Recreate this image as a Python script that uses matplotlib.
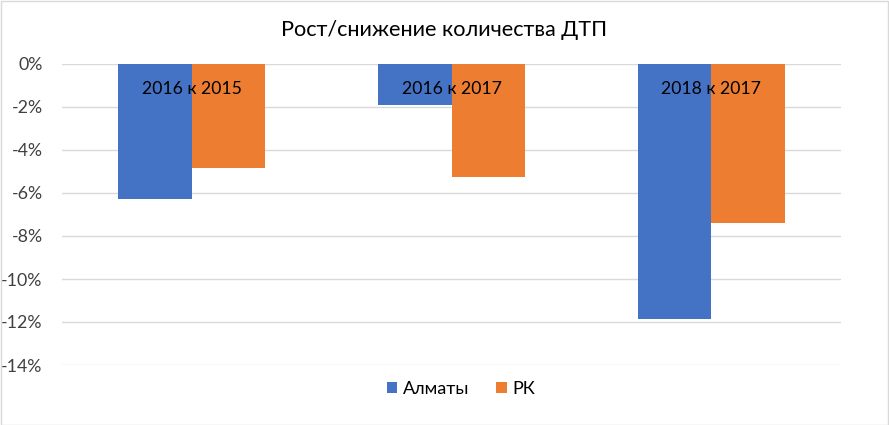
import matplotlib
matplotlib.use('Agg')
import matplotlib.pyplot as plt
from matplotlib.patches import Rectangle

plt.rcParams['font.family'] = ['Lato', 'DejaVu Sans']

# Данные
categories = ['2016 к 2015', '2016 к 2017', '2018 к 2017']
almaty = [-6.27, -1.9, -11.88]
rk = [-4.84, -5.27, -7.38]
yticks = [0, -2, -4, -6, -8, -10, -12, -14]

blue = '#4472C4'
orange = '#ED7D31'

fig = plt.figure(figsize=(8.89, 4.25), dpi=100, facecolor='white')
ax = fig.add_axes([62/889, 1-365/425, (841-62)/889, (365-64)/425])

w = 0.283
x = list(range(len(categories)))
ax.bar([i - w/2 for i in x], almaty, width=w, color=blue, label='Алматы', zorder=3)
ax.bar([i + w/2 for i in x], rk, width=w, color=orange, label='РК', zorder=3)

# Подписи категорий у нулевой оси
for i, c in enumerate(categories):
    ax.text(i, -1.17, c, ha='center', va='center', fontsize=12.7, color='black', zorder=4)

ax.set_xlim(-0.5, 2.5)
ax.set_ylim(-14, 0)
ax.set_yticks(yticks)
ax.set_yticklabels([f'{t}%' for t in yticks], fontsize=12.8, color='#404040')
ax.set_xticks([])
ax.tick_params(axis='y', length=0, pad=14)
ax.grid(axis='y', color='#D9D9D9', linewidth=1, zorder=0)
for s in ax.spines.values():
    s.set_visible(False)

fig.text(0.5, 1-30/425, 'Рост/снижение количества ДТП', ha='center', va='center', fontsize=15.6, color='black')

leg = fig.legend(loc='center', bbox_to_anchor=(461/889, 1-389/425), ncol=2, frameon=False,
                 fontsize=13, handlelength=0.6, handleheight=0.6, columnspacing=1.5, handletextpad=0.3)

# Рамка вокруг диаграммы
fig.patches.append(Rectangle((0.001, 0.001), 0.998, 0.997, transform=fig.transFigure,
                             fill=False, edgecolor='#D9D9D9', linewidth=1))

plt.savefig('out.png', dpi=100, facecolor='white')
plt.close()
